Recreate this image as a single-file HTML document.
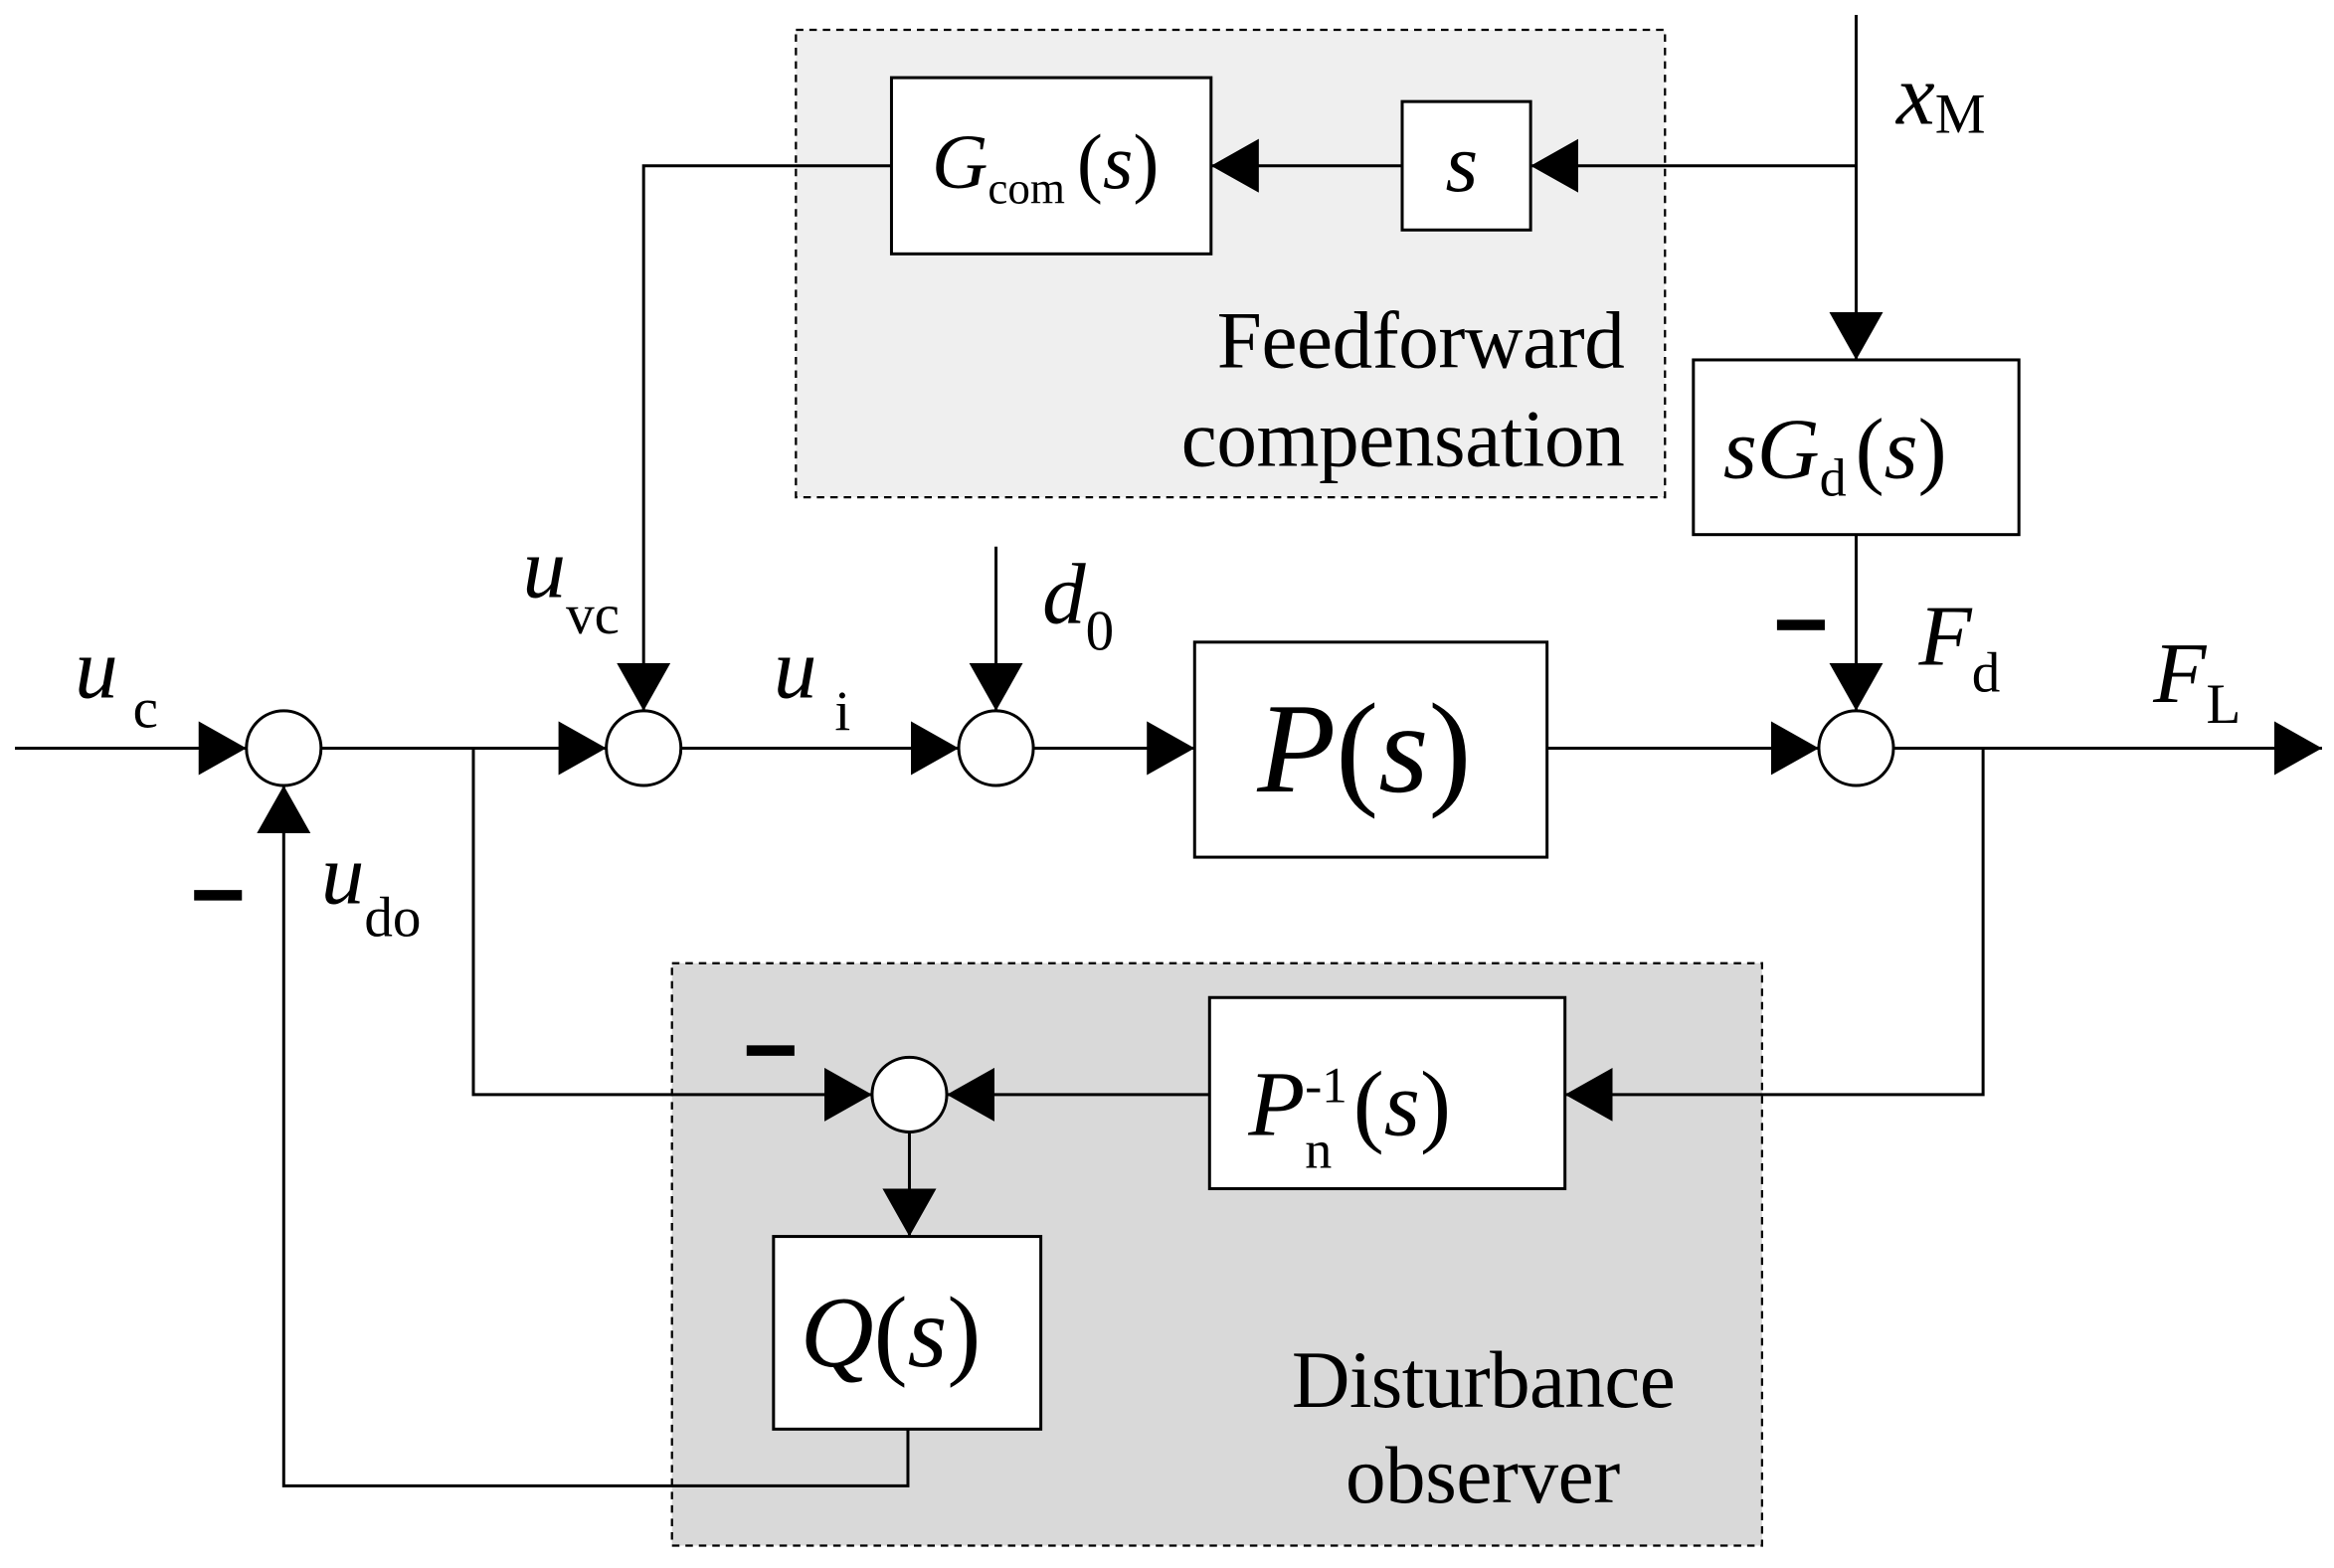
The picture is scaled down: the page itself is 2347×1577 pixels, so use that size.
<!DOCTYPE html>
<html><head><meta charset="utf-8"><style>html,body{margin:0;padding:0;background:#fff}svg{display:block}</style></head>
<body>
<svg width="2347" height="1577" viewBox="0 0 1563 1050" preserveAspectRatio="none" xmlns="http://www.w3.org/2000/svg" font-family="Liberation Serif, serif">
<defs>
<marker id="a" markerWidth="32" markerHeight="36" refX="32" refY="18" orient="auto" markerUnits="userSpaceOnUse"><path d="M0,0 L32,18 L0,36 z" fill="#000"/></marker>
</defs>
<rect x="533" y="20" width="582" height="313" fill="#efefef" stroke="#000" stroke-width="1.5" stroke-dasharray="5,4"/>
<rect x="450" y="645" width="730" height="390" fill="#d9d9d9" stroke="#000" stroke-width="1.5" stroke-dasharray="5,4"/>
<g stroke="#000" stroke-width="2" fill="none">
<rect x="597" y="52" width="214" height="118" fill="#fff"/>
<rect x="939" y="68" width="86" height="86" fill="#fff"/>
<rect x="1134" y="241" width="218" height="117" fill="#fff"/>
<rect x="800" y="430" width="236" height="144" fill="#fff"/>
<rect x="810" y="668" width="238" height="128" fill="#fff"/>
<rect x="518" y="828" width="179" height="129" fill="#fff"/>
<circle cx="190" cy="501" r="25" fill="#fff"/>
<circle cx="431" cy="501" r="25" fill="#fff"/>
<circle cx="667" cy="501" r="25" fill="#fff"/>
<circle cx="1243" cy="501" r="25" fill="#fff"/>
<circle cx="609" cy="733" r="25" fill="#fff"/>
<line x1="1243" y1="10" x2="1243" y2="241" marker-end="url(#a)"/>
<line x1="1243" y1="111" x2="1025" y2="111" marker-end="url(#a)"/>
<line x1="939" y1="111" x2="811" y2="111" marker-end="url(#a)"/>
<polyline points="597,111 431,111 431,476" marker-end="url(#a)"/>
<line x1="1243" y1="358" x2="1243" y2="476" marker-end="url(#a)"/>
<line x1="10" y1="501" x2="165" y2="501" marker-end="url(#a)"/>
<line x1="215" y1="501" x2="406" y2="501" marker-end="url(#a)"/>
<line x1="456" y1="501" x2="642" y2="501" marker-end="url(#a)"/>
<line x1="667" y1="366" x2="667" y2="476" marker-end="url(#a)"/>
<line x1="692" y1="501" x2="800" y2="501" marker-end="url(#a)"/>
<line x1="1036" y1="501" x2="1218" y2="501" marker-end="url(#a)"/>
<line x1="1268" y1="501" x2="1555" y2="501" marker-end="url(#a)"/>
<polyline points="317,501 317,733 584,733" marker-end="url(#a)"/>
<polyline points="1328,501 1328,733 1048,733" marker-end="url(#a)"/>
<line x1="810" y1="733" x2="634" y2="733" marker-end="url(#a)"/>
<line x1="609" y1="758" x2="609" y2="828" marker-end="url(#a)"/>
<polyline points="608,957 608,995 190,995 190,526" marker-end="url(#a)"/>
</g>
<g fill="#000">
<rect x="130" y="596" width="32" height="7"/>
<rect x="1190" y="415" width="32" height="7"/>
<rect x="500" y="700" width="32" height="7"/>
</g>
<g font-style="italic">
<text x="624" y="126" font-size="52">G<tspan font-style="normal" font-size="30" dy="10">com</tspan><tspan dy="-10" font-style="normal" dx="8">(</tspan>s<tspan font-style="normal">)</tspan></text>
<text x="968" y="128" font-size="56">s</text>
<text x="1154" y="320" font-size="58">sG<tspan font-style="normal" font-size="36" dy="12">d</tspan><tspan dy="-12" font-style="normal" dx="6">(</tspan>s<tspan font-style="normal">)</tspan></text>
<text x="842" y="530" font-size="86">P<tspan font-style="normal">(</tspan>s<tspan font-style="normal">)</tspan></text>
<text x="836" y="760" font-size="62">P<tspan font-style="normal" font-size="36" dy="22">n</tspan><tspan font-style="normal" font-size="34" dx="-18" dy="-44">-1</tspan><tspan dy="22" font-style="normal" dx="4">(</tspan>s<tspan font-style="normal">)</tspan></text>
<text x="536" y="915" font-size="68">Q<tspan font-style="normal">(</tspan>s<tspan font-style="normal">)</tspan></text>
<g font-size="58">
<text x="1270" y="83">x<tspan font-style="normal" font-size="38" dy="6">M</tspan></text>
<text x="50" y="467">u<tspan font-style="normal" font-size="38" dx="10" dy="20">c</tspan></text>
<text x="350" y="400">u<tspan font-style="normal" font-size="38" dy="24">vc</tspan></text>
<text x="518" y="467">u<tspan font-style="normal" font-size="38" dx="12" dy="22">i</tspan></text>
<text x="698" y="417">d<tspan font-style="normal" font-size="38" dy="18">0</tspan></text>
<text x="215" y="605">u<tspan font-style="normal" font-size="38" dy="22">do</tspan></text>
<text x="1285" y="445">F<tspan font-style="normal" font-size="38" dy="18">d</tspan></text>
<text x="1442" y="470">F<tspan font-style="normal" font-size="38" dy="14">L</tspan></text>
</g>
</g>
<g font-size="54">
<text x="815" y="246" textLength="273">Feedforward</text>
<text x="791" y="312" textLength="297">compensation</text>
<text x="865" y="942" textLength="257">Disturbance</text>
<text x="901" y="1006" textLength="184">observer</text>
</g>
</svg>
</body></html>
